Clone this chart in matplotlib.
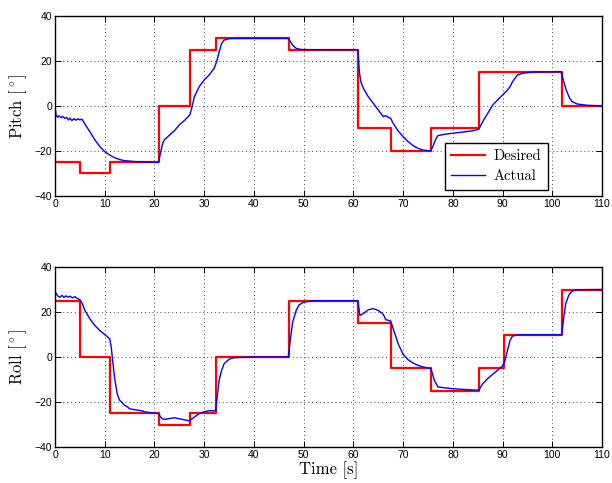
import matplotlib
matplotlib.use("Agg")
import matplotlib.pyplot as plt
from matplotlib.ticker import MultipleLocator

# Desired set-points (step changes)
pitch_des_t = [0, 5, 11, 21, 27.2, 32.4, 47, 61, 67.6, 75.6, 85.2, 101.9, 110]
pitch_des_v = [-25, -30, -25, 0, 25, 30, 25, -10, -20, -10, 15, 0, 0]

roll_des_t = [0, 5, 11, 21, 27.2, 32.4, 47, 61, 67.6, 75.6, 85.2, 90.3, 101.9, 110]
roll_des_v = [25, 0, -25, -30, -25, 0, 25, 15, -5, -15, -5, 10, 30, 30]

pitch_act_t = [0, 0.2, 0.5, 0.8, 1.2, 1.5, 2.0, 2.3, 2.7, 3.0, 3.4, 3.8, 4.2, 4.6, 5.0, 5.4,
               6, 7, 8, 9, 10, 11, 12, 13, 14, 16, 18, 20.8,
               21.2, 21.7, 22, 23, 24, 25, 26, 27.1,
               27.5, 28, 29, 30, 31, 32, 32.5, 33, 33.5, 34, 35, 36, 40, 46.8,
               47.3, 47.8, 48.5, 49.5, 52, 60.9,
               61.2, 61.5, 62, 63, 64, 65, 66, 66.5, 67, 67.5, 68, 69, 70, 71, 72, 73, 74, 75.5,
               76, 76.5, 77, 78, 80, 82, 84, 85.2,
               86, 87, 88, 89, 90, 91, 91.5, 92, 93, 94, 96, 101.8,
               102.2, 102.8, 103.5, 104, 105, 107, 110]
pitch_act_v = [0, -4, -5, -4.3, -5.2, -4.6, -5.5, -5.0, -6.2, -5.4, -6.5, -5.6, -6.3, -5.7, -6.2, -5.8,
               -8, -11.4, -15, -18, -20.3, -21.8, -23, -23.8, -24.3, -24.7, -24.9, -25,
               -21, -16.3, -15, -13, -11, -8.4, -6.5, -4,
               -1, 4, 8.6, 11.6, 13.8, 16.7, 19.7, 24, 27.8, 29.3, 29.9, 30, 30, 30,
               28.8, 27, 25.6, 25.1, 25, 25,
               15, 10.8, 7.9, 4.1, 1.2, -1.8, -4.7, -4.3, -5, -5.5, -7.7, -11.1, -13.6, -15.8, -17.6, -18.8, -19.6, -20,
               -18, -15, -13.2, -12.7, -12.1, -11.6, -11, -10.4,
               -7, -3.3, 0.4, 2.7, 4.9, 7.1, 8.6, 10.8, 13.8, 14.5, 15.1, 15.2,
               11.6, 7.1, 3.4, 1.9, 0.9, 0.3, 0]

roll_act_t = [0, 0.3, 0.6, 1.0, 1.4, 1.8, 2.2, 2.6, 3.0, 3.5, 4.0, 4.5, 5.0,
              5.5, 6, 7, 8, 9, 10, 11, 11.3, 11.7, 12, 12.5, 13, 13.3, 14, 14.5, 15, 16, 17.7, 18, 20.8,
              21.5, 22, 24, 26, 27, 28, 29, 30, 31, 32.3,
              32.6, 33, 33.5, 34, 35, 36, 40, 46.9,
              47.3, 47.8, 48.5, 49, 50, 52, 60.9,
              61.3, 62, 63, 64, 65, 66, 66.5, 67.5, 68, 69, 70, 71, 72, 73, 74, 75.6,
              76.3, 77, 78, 80, 83, 85.2,
              86, 87, 88, 89, 90, 90.4, 91, 91.5, 92, 93, 95, 101.9,
              102.3, 102.7, 103.3, 104, 105, 110]
roll_act_v = [29, 28, 27, 26.6, 27.4, 26.5, 27.2, 26.6, 27, 26.3, 26.8, 26, 25.5,
              23.7, 20.7, 17, 14, 11.8, 10, 8.1, 4.4, -3.7, -9.6, -16.3, -19.3, -19.8, -21.5, -22, -23, -23.4, -24, -24.4, -25.2,
              -27.4, -27.7, -27, -27.9, -28.4, -26.7, -25.2, -24.3, -23.9, -23.9,
              -17.8, -10.4, -5.9, -3, -1, -0.3, 0, 0,
              7.4, 15.6, 20.7, 23, 24.4, 25, 25,
              18.5, 19.3, 21, 21.5, 20.7, 19, 16.6, 16, 12.6, 5.9, 1.2, -1.2, -2.7, -3.7, -4.4, -5.2,
              -10.4, -13.3, -13.6, -14.1, -14.5, -14.8,
              -11.9, -9.6, -7.7, -5.9, -3.9, -2.2, 3, 7.4, 9.3, 9.8, 9.9, 9.9,
              17.8, 23.7, 27.4, 29.3, 29.9, 30]

plt.rcParams["mathtext.fontset"] = "cm"
LABEL_FONT = ["cmr10", "DejaVu Serif"]
TICK_FONT = "Liberation Sans"


def style_axes(ax, ylabel):
    ax.set_xlim(0, 110)
    ax.set_ylim(-40, 40)
    ax.xaxis.set_major_locator(MultipleLocator(10))
    ax.yaxis.set_major_locator(MultipleLocator(20))
    ax.grid(True, linestyle=(0, (1, 3)), color="#444444", linewidth=0.7)
    ax.tick_params(direction="in", top=True, right=True, length=4, width=0.7,
                   labelsize=7.5, pad=2)
    for lab in ax.get_xticklabels() + ax.get_yticklabels():
        lab.set_fontfamily(TICK_FONT)
    for sp in ax.spines.values():
        sp.set_linewidth(1.0)
    ax.set_ylabel(ylabel, fontsize=12, family=LABEL_FONT, labelpad=4)


fig = plt.figure(figsize=(6.12, 4.83), dpi=100)
ax1 = fig.add_axes([0.0899, 0.5942, 0.8938, 0.3727])
ax2 = fig.add_axes([0.0899, 0.0745, 0.8938, 0.3727])

ax1.plot(pitch_des_t, pitch_des_v, drawstyle="steps-post", color="#ff0000", lw=1.6, label="Desired")
ax1.plot(pitch_act_t, pitch_act_v, color="#0000ff", lw=1.0, label="Actual")
style_axes(ax1, r"Pitch $[^\circ]$")
leg = ax1.legend(loc="lower right", bbox_to_anchor=(0.901, 0.033), borderaxespad=0,
                 fancybox=False, framealpha=1, edgecolor="black",
                 prop={"family": LABEL_FONT, "size": 10.5},
                 handlelength=2.3, handletextpad=0.6, borderpad=0.45, labelspacing=0.45)
leg.get_frame().set_linewidth(1.0)

ax2.plot(roll_des_t, roll_des_v, drawstyle="steps-post", color="#ff0000", lw=1.6)
ax2.plot(roll_act_t, roll_act_v, color="#0000ff", lw=1.0)
style_axes(ax2, r"Roll $[^\circ]$")
ax2.set_xlabel("Time [s]", fontsize=12, family=LABEL_FONT, labelpad=1)

fig.savefig("out.png", dpi=100)
